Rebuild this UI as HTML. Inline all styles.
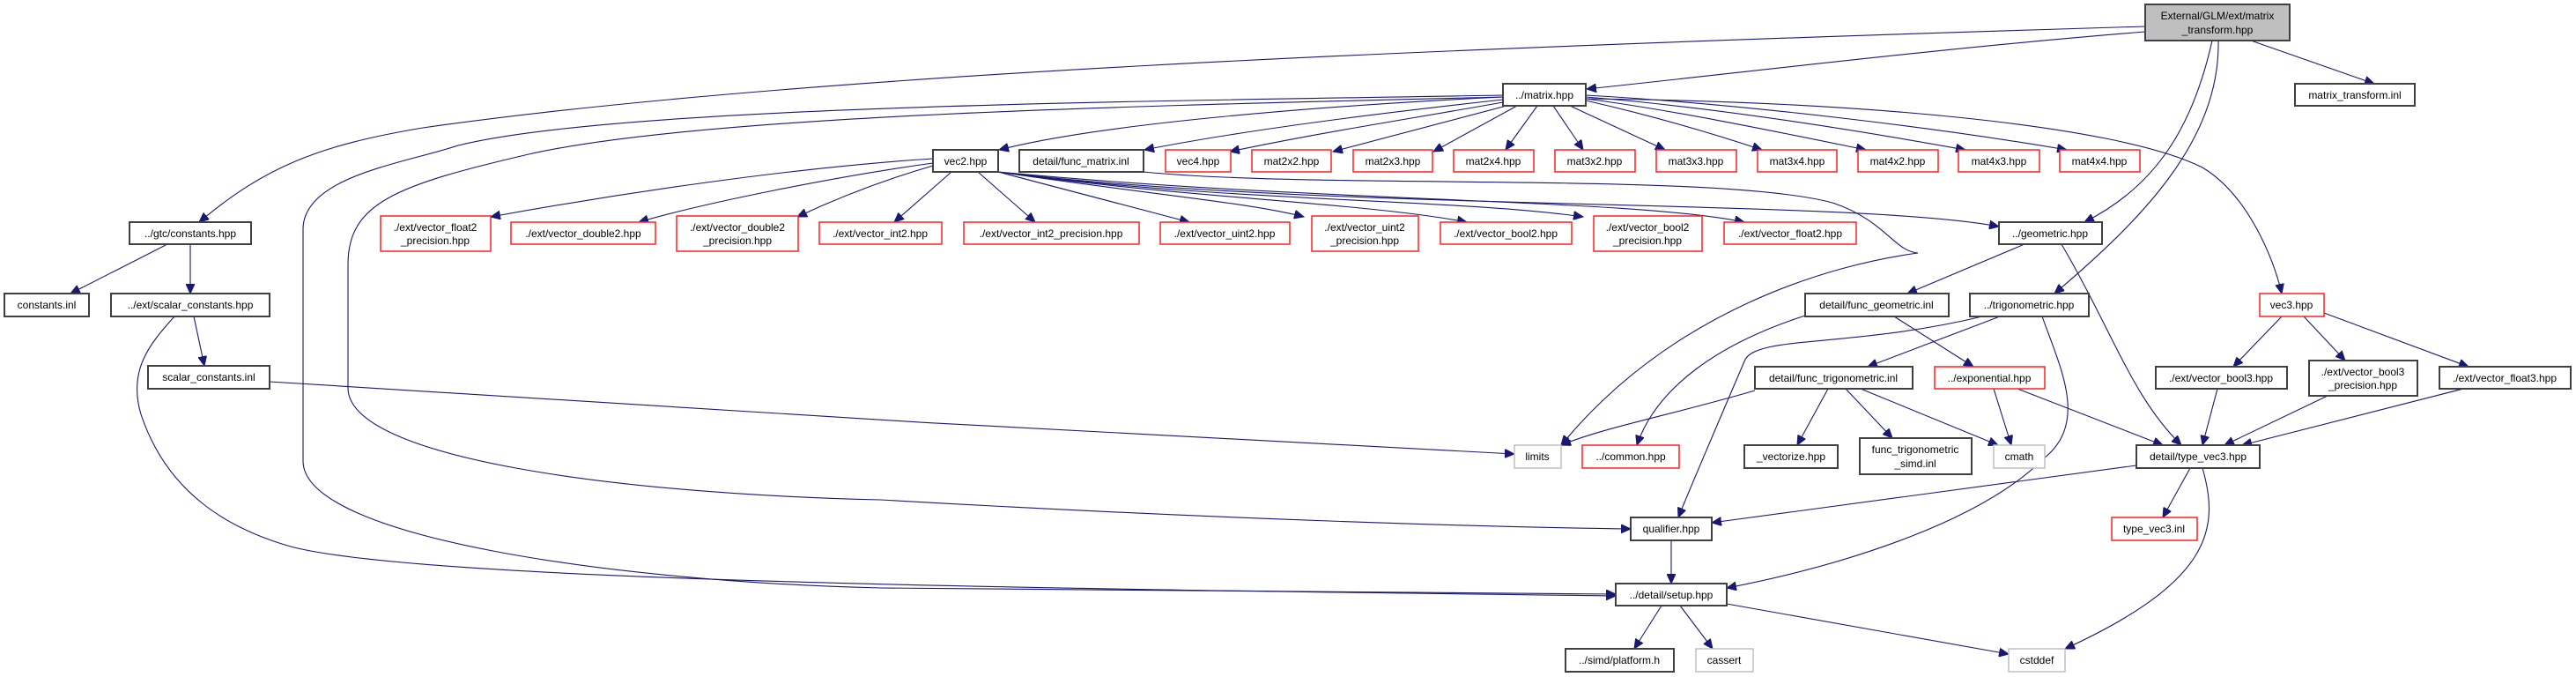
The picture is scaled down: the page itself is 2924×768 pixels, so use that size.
<!DOCTYPE html>
<html><head><meta charset="utf-8"><style>
html,body{margin:0;padding:0;background:#fff;}
svg{display:block;}
text{font-family:"Liberation Sans",sans-serif;font-size:12px;fill:#000;text-anchor:middle;}
.b{fill:#fff;stroke:#404040;stroke-width:2;}
.r{fill:#fff;stroke:#ff2020;stroke-width:1.5;}
.g{fill:#fff;stroke:#bfbfbf;stroke-width:1.5;}
.m{fill:#bfbfbf;stroke:#404040;stroke-width:2;}
path.e{fill:none;stroke:#191970;stroke-width:1.1;marker-end:url(#a);}
</style></head><body>
<svg width="2924" height="768" viewBox="0 0 2924 768" xmlns="http://www.w3.org/2000/svg">
<defs><marker id="a" markerUnits="userSpaceOnUse" markerWidth="12" markerHeight="10" refX="11" refY="5" orient="auto"><path d="M0,0 L11,5 L0,10 z" fill="#191970" stroke="#191970"/></marker></defs>

<!-- edges -->
<path class="e" d="M2435,30 C1600,55 900,85 480,145 C360,165 300,190 226,252"/>
<path class="e" d="M2435,36 C2200,55 2000,80 1801,101"/>
<path class="e" d="M2555,46 L2695,95"/>
<path class="e" d="M2511,46 C2490,140 2450,210 2366,252"/>
<path class="e" d="M2518,46 C2520,160 2430,250 2332,333"/>
<path class="e" d="M1800,112 C2100,115 2400,140 2500,190 C2550,220 2580,290 2590,333"/>
<path class="e" d="M1706,110 C1500,120 1250,140 1134,170"/>
<path class="e" d="M1706,113 C1550,130 1400,150 1299,170"/>
<path class="e" d="M1706,116 C1600,135 1500,150 1396,172"/>
<path class="e" d="M1710,120 L1513,172"/>
<path class="e" d="M1722,120 L1627,172"/>
<path class="e" d="M1745,120 L1709,170"/>
<path class="e" d="M1763,120 L1797,170"/>
<path class="e" d="M1782,120 L1890,170"/>
<path class="e" d="M1800,114 C1870,130 1940,150 2000,170"/>
<path class="e" d="M1800,112 C1900,125 2020,150 2118,170"/>
<path class="e" d="M1800,110 C1950,122 2120,150 2231,170"/>
<path class="e" d="M1800,108 C1980,118 2200,145 2346,170"/>
<path class="e" d="M1706,108 C1300,115 700,120 520,165 C460,185 344,200 344,260 L344,523 C344,610 700,660 1000,667 L1834,674"/>
<path class="e" d="M1706,110 C1300,120 800,130 600,175 C450,210 395,230 395,300 L395,440 C395,520 700,560 1000,567 C1400,590 1700,598 1851,600"/>
<path class="e" d="M1059,180 C900,190 700,220 557,246"/>
<path class="e" d="M1059,185 C950,200 800,230 725,252"/>
<path class="e" d="M1059,188 C1000,205 950,225 905,246"/>
<path class="e" d="M1080,195 L1015,252"/>
<path class="e" d="M1110,195 L1175,252"/>
<path class="e" d="M1133,195 L1350,252"/>
<path class="e" d="M1133,195 C1300,220 1420,230 1480,246"/>
<path class="e" d="M1133,195 C1350,225 1550,230 1665,252"/>
<path class="e" d="M1133,195 C1400,230 1650,225 1797,246"/>
<path class="e" d="M1133,195 C1500,230 1850,225 1980,252"/>
<path class="e" d="M1133,195 C1500,240 2100,225 2269,257"/>
<path class="e" d="M1298,195 C1500,215 1950,195 2080,230 C2140,250 2150,285 2177,287 C2080,300 1900,350 1772,505"/>
<path class="e" d="M190,277 L80,333"/>
<path class="e" d="M216,277 L216,333"/>
<path class="e" d="M220,359 L232,415"/>
<path class="e" d="M198,359 C170,390 145,420 160,470 C190,560 260,600 330,620 C480,660 1200,668 1834,676"/>
<path class="e" d="M306,433 C700,460 1300,495 1719,515"/>
<path class="e" d="M2298,277 L2165,333"/>
<path class="e" d="M2340,277 C2400,380 2420,450 2476,505"/>
<path class="e" d="M2150,359 L2240,416"/>
<path class="e" d="M2049,358 C1950,390 1880,440 1858,505"/>
<path class="e" d="M2270,359 L2120,416"/>
<path class="e" d="M2250,359 C2100,395 1990,380 1980,410 C1950,480 1920,550 1905,587"/>
<path class="e" d="M2318,359 C2340,420 2370,480 2320,520 C2250,590 2100,640 1960,667"/>
<path class="e" d="M1992,443 C1900,470 1820,485 1772,505"/>
<path class="e" d="M2075,441 L2040,505"/>
<path class="e" d="M2095,441 L2148,497"/>
<path class="e" d="M2112,441 L2268,505"/>
<path class="e" d="M2263,441 L2283,505"/>
<path class="e" d="M2290,441 L2455,505"/>
<path class="e" d="M2590,359 L2535,416"/>
<path class="e" d="M2615,359 L2662,409"/>
<path class="e" d="M2638,355 L2802,416"/>
<path class="e" d="M2517,441 L2500,505"/>
<path class="e" d="M2642,449 L2525,505"/>
<path class="e" d="M2796,441 L2545,505"/>
<path class="e" d="M2486,531 L2455,587"/>
<path class="e" d="M2500,531 C2520,600 2510,660 2344,736"/>
<path class="e" d="M2425,528 L1943,593"/>
<path class="e" d="M1897,613 L1897,662"/>
<path class="e" d="M1960,685 L2280,742"/>
<path class="e" d="M1886,687 L1855,736"/>
<path class="e" d="M1907,687 L1944,736"/>

<!-- nodes -->
<rect class="m" x="2435" y="5" width="164" height="41"/><text x="2517" y="22">External/GLM/ext/matrix</text><text x="2517" y="38">_transform.hpp</text>
<rect class="b" x="2605" y="95" width="136" height="25"/><text x="2673" y="112">matrix_transform.inl</text>
<rect class="b" x="1706" y="95" width="94" height="25"/><text x="1753" y="112">../matrix.hpp</text>
<rect class="b" x="147" y="252" width="138" height="25"/><text x="216" y="269">../gtc/constants.hpp</text>
<rect class="b" x="5" y="333" width="96" height="26"/><text x="53" y="350">constants.inl</text>
<rect class="b" x="126" y="333" width="180" height="26"/><text x="216" y="350">../ext/scalar_constants.hpp</text>
<rect class="b" x="168" y="415" width="138" height="26"/><text x="237" y="432">scalar_constants.inl</text>

<rect class="b" x="1059" y="170" width="74" height="25"/><text x="1096" y="187">vec2.hpp</text>
<rect class="b" x="1157" y="170" width="141" height="25"/><text x="1227" y="187">detail/func_matrix.inl</text>
<rect class="r" x="1323" y="170" width="74" height="25"/><text x="1360" y="187">vec4.hpp</text>
<rect class="r" x="1421" y="170" width="90" height="25"/><text x="1466" y="187">mat2x2.hpp</text>
<rect class="r" x="1536" y="170" width="90" height="25"/><text x="1581" y="187">mat2x3.hpp</text>
<rect class="r" x="1650" y="170" width="91" height="25"/><text x="1695" y="187">mat2x4.hpp</text>
<rect class="r" x="1765" y="170" width="91" height="25"/><text x="1810" y="187">mat3x2.hpp</text>
<rect class="r" x="1880" y="170" width="91" height="25"/><text x="1925" y="187">mat3x3.hpp</text>
<rect class="r" x="1995" y="170" width="90" height="25"/><text x="2040" y="187">mat3x4.hpp</text>
<rect class="r" x="2109" y="170" width="91" height="25"/><text x="2154" y="187">mat4x2.hpp</text>
<rect class="r" x="2223" y="170" width="92" height="25"/><text x="2269" y="187">mat4x3.hpp</text>
<rect class="r" x="2338" y="170" width="91" height="25"/><text x="2383" y="187">mat4x4.hpp</text>

<rect class="r" x="432" y="245" width="125" height="40"/><text x="494" y="262">./ext/vector_float2</text><text x="494" y="277">_precision.hpp</text>
<rect class="r" x="580" y="252" width="164" height="25"/><text x="662" y="269">./ext/vector_double2.hpp</text>
<rect class="r" x="768" y="245" width="138" height="40"/><text x="837" y="262">./ext/vector_double2</text><text x="837" y="277">_precision.hpp</text>
<rect class="r" x="930" y="252" width="139" height="25"/><text x="999" y="269">./ext/vector_int2.hpp</text>
<rect class="r" x="1094" y="252" width="199" height="25"/><text x="1193" y="269">./ext/vector_int2_precision.hpp</text>
<rect class="r" x="1317" y="252" width="147" height="25"/><text x="1390" y="269">./ext/vector_uint2.hpp</text>
<rect class="r" x="1489" y="245" width="121" height="40"/><text x="1549" y="262">./ext/vector_uint2</text><text x="1549" y="277">_precision.hpp</text>
<rect class="r" x="1635" y="252" width="149" height="25"/><text x="1709" y="269">./ext/vector_bool2.hpp</text>
<rect class="r" x="1809" y="245" width="123" height="40"/><text x="1870" y="262">./ext/vector_bool2</text><text x="1870" y="277">_precision.hpp</text>
<rect class="r" x="1957" y="252" width="150" height="25"/><text x="2032" y="269">./ext/vector_float2.hpp</text>
<rect class="b" x="2269" y="252" width="117" height="25"/><text x="2327" y="269">../geometric.hpp</text>

<rect class="b" x="2049" y="333" width="163" height="26"/><text x="2130" y="350">detail/func_geometric.inl</text>
<rect class="b" x="2236" y="333" width="135" height="26"/><text x="2303" y="350">../trigonometric.hpp</text>
<rect class="r" x="2565" y="333" width="73" height="26"/><text x="2601" y="350">vec3.hpp</text>

<rect class="b" x="1992" y="416" width="179" height="25"/><text x="2081" y="433">detail/func_trigonometric.inl</text>
<rect class="r" x="2196" y="416" width="125" height="25"/><text x="2258" y="433">../exponential.hpp</text>
<rect class="b" x="2447" y="416" width="149" height="25"/><text x="2521" y="433">./ext/vector_bool3.hpp</text>
<rect class="b" x="2621" y="409" width="123" height="40"/><text x="2682" y="426">./ext/vector_bool3</text><text x="2682" y="441">_precision.hpp</text>
<rect class="b" x="2769" y="416" width="149" height="25"/><text x="2843" y="433">./ext/vector_float3.hpp</text>

<rect class="g" x="1719" y="505" width="53" height="26"/><text x="1745" y="522">limits</text>
<rect class="r" x="1796" y="505" width="110" height="26"/><text x="1851" y="522">../common.hpp</text>
<rect class="b" x="1980" y="505" width="106" height="26"/><text x="2033" y="522">_vectorize.hpp</text>
<rect class="b" x="2111" y="497" width="127" height="41"/><text x="2174" y="514">func_trigonometric</text><text x="2174" y="530">_simd.inl</text>
<rect class="g" x="2263" y="505" width="58" height="26"/><text x="2292" y="522">cmath</text>
<rect class="b" x="2425" y="505" width="140" height="26"/><text x="2495" y="522">detail/type_vec3.hpp</text>

<rect class="b" x="1851" y="587" width="92" height="26"/><text x="1897" y="604">qualifier.hpp</text>
<rect class="r" x="2397" y="587" width="97" height="26"/><text x="2445" y="604">type_vec3.inl</text>
<rect class="b" x="1834" y="662" width="126" height="25"/><text x="1897" y="679">../detail/setup.hpp</text>
<rect class="b" x="1777" y="736" width="123" height="26"/><text x="1838" y="753">../simd/platform.h</text>
<rect class="g" x="1925" y="736" width="65" height="26"/><text x="1957" y="753">cassert</text>
<rect class="g" x="2280" y="736" width="64" height="26"/><text x="2312" y="753">cstddef</text>
</svg>
</body></html>
